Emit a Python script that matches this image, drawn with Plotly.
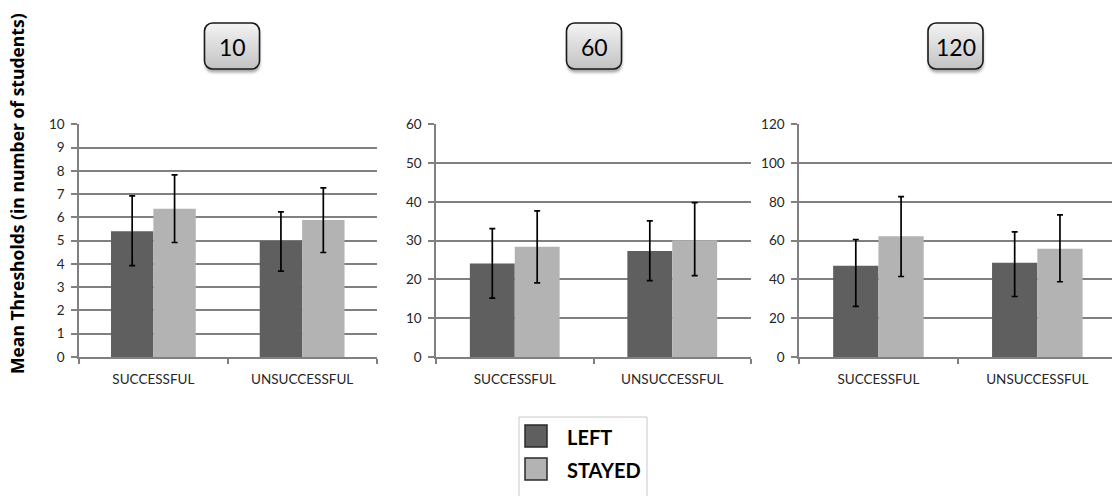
import base64
import plotly.graph_objects as go

# ---- data -------------------------------------------------------------
categories = ["SUCCESSFUL", "UNSUCCESSFUL"]
panel_titles = ["10", "60", "120"]
series_names = ["LEFT", "STAYED"]

# mean thresholds per panel, one list per series
left_means = [[5.4, 5.0], [24.1, 27.3], [47.0, 48.6]]
stayed_means = [[6.37, 5.89], [28.4, 30.1], [62.3, 55.8]]

# upper / lower ends of the error bars
left_err_hi = [[6.92, 6.24], [33.1, 35.1], [60.6, 64.5]]
left_err_lo = [[3.93, 3.69], [15.2, 19.7], [26.1, 31.2]]
stayed_err_hi = [[7.83, 7.27], [37.7, 39.8], [82.7, 73.3]]
stayed_err_lo = [[4.92, 4.49], [19.1, 21.0], [41.5, 38.8]]

y_max = [10, 60, 120]
y_step = [1, 10, 20]

# ---- style ------------------------------------------------------------
W, H = 1112, 496
PAGE_TOP, PAGE_H = 8, 480          # drawable band of the page, in pixels
FONT = "Lato"
colors = {"LEFT": "#5f5f5f", "STAYED": "#b3b3b3"}
grid_color = "#808080"

# plot-area pixel extents of the three panels
x_px = [(79, 376.5), (436, 751), (799, 1112)]
x_ranges = [[-0.5, 1.5], [-0.5, 1.5], [-0.5, 1.47]]
y_top_px, y_bot_px = 124.3, 357
title_centers = [232, 594, 955.5]


def px_x(p):
    return p / W


def px_y(p):
    return 1 - (p - PAGE_TOP) / PAGE_H


fig = go.Figure()

for i in range(3):
    suffix = "" if i == 0 else str(i + 1)
    xa, ya = "x" + suffix, "y" + suffix
    for name, means, hi, lo in (
        ("LEFT", left_means[i], left_err_hi[i], left_err_lo[i]),
        ("STAYED", stayed_means[i], stayed_err_hi[i], stayed_err_lo[i]),
    ):
        fig.add_trace(go.Bar(
            x=categories, y=means, name=name, xaxis=xa, yaxis=ya,
            marker=dict(color=colors[name], line=dict(width=0)),
            error_y=dict(
                type="data", symmetric=False,
                array=[h - m for h, m in zip(hi, means)],
                arrayminus=[m - l for m, l in zip(means, lo)],
                color="#000000", thickness=1.7, width=3,
            ),
            showlegend=False,
        ))

    fig.layout["xaxis" + suffix] = dict(
        domain=[px_x(x_px[i][0]), px_x(x_px[i][1])],
        anchor=ya, type="category", range=x_ranges[i],
        showline=True, linecolor=grid_color, linewidth=1.5,
        showgrid=False, zeroline=False,
        ticks="outside", tickson="boundaries", ticklen=5,
        tickcolor=grid_color, tickwidth=1.5,
        ticklabelstandoff=9,
        tickfont=dict(family=FONT, size=13.5, color="#262626"),
        fixedrange=True,
    )
    fig.layout["yaxis" + suffix] = dict(
        domain=[px_y(y_bot_px), px_y(y_top_px)],
        anchor=xa, range=[0, y_max[i]], dtick=y_step[i], tick0=0,
        showline=True, linecolor=grid_color, linewidth=1.5,
        showgrid=True, gridcolor=grid_color, gridwidth=1.5,
        zeroline=False,
        ticks="outside", ticklen=6, tickcolor=grid_color, tickwidth=1.5,
        ticklabelstandoff=4,
        tickfont=dict(family=FONT, size=13.5, color="#262626"),
        fixedrange=True,
    )

# ---- panel title badges (rounded, gradient-filled) -----------------------
badge_svg = """<svg xmlns='http://www.w3.org/2000/svg' width='64' height='56' viewBox='0 0 64 56'>
<defs>
<linearGradient id='g' x1='0' y1='0' x2='0' y2='1'>
<stop offset='0' stop-color='#f4f4f4'/><stop offset='1' stop-color='#c2c2c2'/>
</linearGradient>
<filter id='s' x='-20%' y='-20%' width='140%' height='150%'>
<feGaussianBlur stdDeviation='1.6'/>
</filter>
</defs>
<rect x='4.5' y='5.5' width='55' height='46' rx='8' ry='8' fill='#000' opacity='0.35' filter='url(#s)'/>
<rect x='4' y='2' width='55' height='46' rx='8' ry='8' fill='url(#g)' stroke='#1a1a1a' stroke-width='1.6'/>
</svg>"""
badge_src = "data:image/svg+xml;base64," + base64.b64encode(badge_svg.encode()).decode()

for cx, title in zip(title_centers, panel_titles):
    fig.add_layout_image(
        source=badge_src, xref="paper", yref="paper",
        x=px_x(cx - 31.5), y=px_y(21), sizex=64 / W, sizey=56 / PAGE_H,
        xanchor="left", yanchor="top", sizing="stretch", layer="below",
    )
    fig.add_annotation(
        x=px_x(cx), y=px_y(46.5), xref="paper", yref="paper",
        text=title, showarrow=False, xanchor="center", yanchor="middle",
        font=dict(family=FONT, size=23, color="#000000"),
    )

# ---- shared y-axis title ----------------------------------------------
fig.add_annotation(
    x=px_x(17), y=px_y(194), xref="paper", yref="paper",
    text="<b>Mean Thresholds (in number of students)</b>", textangle=-90,
    showarrow=False, xanchor="center", yanchor="middle",
    font=dict(family="Open Sans", size=17.5, color="#000000"),
)

# ---- legend box --------------------------------------------------------
fig.add_shape(
    type="rect", xref="paper", yref="paper",
    x0=px_x(519), x1=px_x(647), y0=px_y(530), y1=px_y(417),
    line=dict(color="#c8c8c8", width=1), fillcolor="#ffffff", layer="above",
)
for k, name in enumerate(series_names):
    top = 425 + k * 33
    fig.add_shape(
        type="rect", xref="paper", yref="paper",
        x0=px_x(525), x1=px_x(547), y0=px_y(top + 22), y1=px_y(top),
        line=dict(color="#2a2a2a", width=1.5), fillcolor=colors[name],
        layer="above",
    )
    fig.add_annotation(
        x=px_x(565), y=px_y(top + 11.5), xref="paper", yref="paper",
        text="<b>" + name + "</b>", showarrow=False,
        xanchor="left", yanchor="middle",
        font=dict(family=FONT, size=20, color="#000000"),
    )

fig.update_layout(
    width=W, height=H,
    margin=dict(l=0, r=0, t=0, b=0),
    paper_bgcolor="#ffffff", plot_bgcolor="#ffffff",
    barmode="group", bargap=0.43, bargroupgap=0,
    showlegend=False,
    font=dict(family=FONT),
)

fig.write_html("out.html", config={"displayModeBar": False})
